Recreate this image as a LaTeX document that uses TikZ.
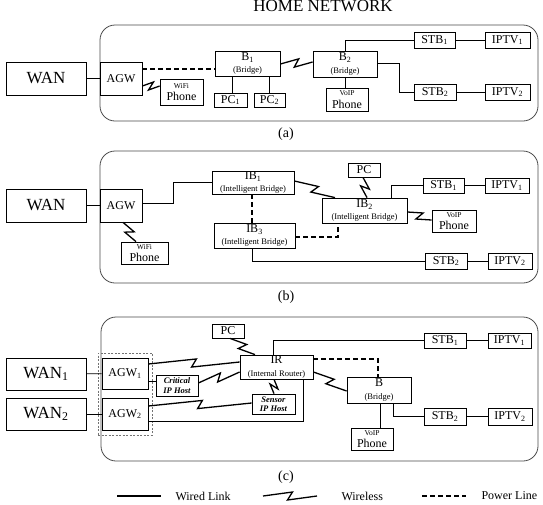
\documentclass[tikz,border=0pt]{standalone}
\usepackage{fontspec}
\setmainfont{Liberation Serif}
\usetikzlibrary{calc}
\newcommand\smt{\fontsize{7.5}{8}\selectfont}
\newcommand\mdt{\fontsize{8.5}{9.5}\selectfont}
\newcommand\bgt{\fontsize{17}{18}\selectfont}
\newcommand\bx[7][]{\node[box,minimum width={(#4-#2)*1pt},minimum height={(#5-#3)*1pt},#1] (#6) at ({(#2+#4)/2},{(#3+#5)/2}) {#7};}
\newcommand\wls[2]{\draw[wlink] let \p1=($(#2)-(#1)$), \n1={atan2(\y1,\x1)} in (#1) -- ($(#1)!0.5!(#2)+(\n1:2.5pt)+(\n1+90:4pt)$) -- ($(#1)!0.5!(#2)+(\n1:-2.5pt)+(\n1-90:4pt)$) -- (#2);}
\tikzset{
  box/.style={draw,line width=0.8pt,inner sep=0pt,align=center,font=\fontsize{12}{12.5}\selectfont},
  wire/.style={line width=0.8pt},
  wlink/.style={line width=1.3pt,line join=miter,miter limit=10},
  pl/.style={line width=2.8pt,dash pattern=on 5pt off 3pt},
  panel/.style={draw=black!70,line width=0.8pt,rounded corners=15pt},
  grpbox/.style={draw=black!55,line width=0.7pt,dash pattern=on 2pt off 1.5pt},
  captxt/.style={font=\fontsize{14}{14}\selectfont},
  legtext/.style={anchor=west,font=\fontsize{12}{12}\selectfont},
  hostbox/.style={font=\mdt\bfseries\itshape}
}
\begin{document}
\begin{tikzpicture}[x=1pt,y=-1pt]
\path[use as bounding box,fill=white] (0,0) rectangle (543,504);
\node[anchor=base,font=\fontsize{17}{17}\selectfont] (title) at (323,11.8) {HOME NETWORK};

% ---------------- panel (a)
\draw[panel] (100,25) rectangle (538,121);
\bx{6}{62}{86}{95}{wanA}{\bgt WAN}
\bx{100}{62}{142}{95}{agwA}{AGW}
\bx{160}{79}{203}{105}{wifiA}{{\smt WiFi}\\Phone}
\bx{215}{51}{280}{76}{b1A}{B\textsubscript{1}\\{\mdt (Bridge)}}
\bx{214}{93}{247}{107}{pc1A}{PC\textsubscript{1}}
\bx{254}{93}{285}{107}{pc2A}{PC\textsubscript{2}}
\bx{313}{51}{377}{77}{b2A}{B\textsubscript{2}\\{\mdt (Bridge)}}
\bx{326}{88}{368}{111}{voipA}{{\smt VoIP}\\Phone}
\bx{414}{32}{455}{48}{stb1A}{STB\textsubscript{1}}
\bx{485}{32}{530}{48}{iptv1A}{IPTV\textsubscript{1}}
\bx{414}{84}{456}{100}{stb2A}{STB\textsubscript{2}}
\bx{485}{84}{530}{100}{iptv2A}{IPTV\textsubscript{2}}
\draw[wire] (wanA) -- (agwA);
\draw[pl] (agwA.east |- 0,69) -- (b1A.west |- 0,69);
\coordinate (wa1) at (agwA.east |- 0,86);
\coordinate (wa2) at (wifiA.west |- 0,86);
\wls{wa1}{wa2}
\draw[wire] (b1A.south -| 232,0) -- (pc1A.north -| 232,0);
\draw[wire] (b1A.south -| 269,0) -- (pc2A.north -| 269,0);
\coordinate (wa3) at (b1A.east |- 0,64);
\coordinate (wa4) at (b2A.west |- 0,62);
\wls{wa3}{wa4}
\draw[wire] (b2A.north -| 345,0) |- (stb1A.west);
\draw[wire] (b2A.east |- 0,63) -- (399,63) |- (stb2A.west);
\draw[wire] (b2A.south -| 345,0) -- (voipA.north -| 345,0);
\draw[wire] (stb1A) -- (iptv1A);
\draw[wire] (stb2A) -- (iptv2A);
\node[captxt] (capA) at (286,134) {(a)};

% ---------------- panel (b)
\draw[panel] (100,151) rectangle (538,283);
\bx{6}{189}{86}{222}{wanB}{\bgt WAN}
\bx{100}{189}{142}{222}{agwB}{AGW}
\bx{121}{242}{168}{264}{wifiB}{{\smt WiFi}\\Phone}
\bx{212}{171}{294}{194}{ib1}{IB\textsubscript{1}\\{\mdt (Intelligent Bridge)}}
\bx{214}{223}{295}{248}{ib3}{IB\textsubscript{3}\\{\mdt (Intelligent Bridge)}}
\bx{322}{198}{407}{223}{ib2}{IB\textsubscript{2}\\{\mdt (Intelligent Bridge)}}
\bx{348}{163}{380}{177}{pcB}{PC}
\bx{423}{178}{464}{193}{stb1B}{STB\textsubscript{1}}
\bx{485}{178}{529}{193}{iptv1B}{IPTV\textsubscript{1}}
\bx{432}{210}{476}{232}{voipB}{{\smt VoIP}\\Phone}
\bx{425}{253}{467}{269}{stb2B}{STB\textsubscript{2}}
\bx{488}{253}{532}{269}{iptv2B}{IPTV\textsubscript{2}}
\draw[wire] (wanB) -- (agwB);
\draw[wire] (agwB.east |- 0,203) -- (173,203) |- (ib1.west);
\coordinate (wb1) at (agwB.south -| 123,0);
\coordinate (wb2) at (wifiB.north -| 136,0);
\wls{wb1}{wb2}
\draw[pl] (ib1.south -| 252,0) -- (ib3.north -| 252,0);
\coordinate (wb3) at (ib1.east |- 0,181);
\coordinate (wb4) at (ib2.north -| 335,0);
\wls{wb3}{wb4}
\draw[pl] (ib3.east |- 0,237) -- (338,237) -- (ib2.south -| 338,0);
\coordinate (wb5) at (pcB.south -| 363,0);
\coordinate (wb6) at (ib2.north -| 367,0);
\wls{wb5}{wb6}
\draw[wire] (ib2.north -| 391,0) |- (stb1B.west);
\coordinate (wb7) at (ib2.east |- 0,212);
\coordinate (wb8) at (voipB.west |- 0,220);
\wls{wb7}{wb8}
\draw[wire] (ib3.south -| 252,0) |- (stb2B.west);
\draw[wire] (stb1B) -- (iptv1B);
\draw[wire] (stb2B) -- (iptv2B);
\node[captxt] (capB) at (286,297) {(b)};

% ---------------- panel (c)
\draw[panel] (101,317) rectangle (538,461);
\bx{6}{358}{86}{390}{wan1}{\bgt WAN\textsubscript{1}}
\bx{6}{398}{86}{430}{wan2}{\bgt WAN\textsubscript{2}}
\bx[grpbox,draw=black!55]{98}{353}{152}{435}{grp}{}
\bx{102}{358}{148}{389}{agw1}{AGW\textsubscript{1}}
\bx{102}{398}{148}{430}{agw2}{AGW\textsubscript{2}}
\bx{212}{324}{244}{338}{pcC}{PC}
\bx{240}{355}{313}{379}{ir}{IR\\{\mdt (Internal Router)}}
\bx[hostbox]{156}{375}{198}{396}{crit}{Critical\\IP Host}
\bx[hostbox]{252}{394}{295}{414}{sens}{Sensor\\IP Host}
\bx{347}{377}{411}{403}{bC}{B\\{\mdt (Bridge)}}
\bx{351}{428}{393}{450}{voipC}{{\smt VoIP}\\Phone}
\bx{424}{333}{466}{348}{stb1C}{STB\textsubscript{1}}
\bx{488}{333}{531}{348}{iptv1C}{IPTV\textsubscript{1}}
\bx{424}{408}{466}{425}{stb2C}{STB\textsubscript{2}}
\bx{488}{408}{532}{425}{iptv2C}{IPTV\textsubscript{2}}
\draw[wire] (wan1) -- (agw1);
\draw[wire] (wan2) -- (agw2);
\coordinate (wc1) at (agw1.east |- 0,364);
\coordinate (wc2) at (ir.west |- 0,362);
\wls{wc1}{wc2}
\draw[wire] (agw1.east |- 0,381) -- (crit.west |- 0,381);
\coordinate (wc3) at (crit.east |- 0,383);
\coordinate (wc4) at (ir.west |- 0,372);
\wls{wc3}{wc4}
\coordinate (wc5) at (agw2.east |- 0,406);
\coordinate (wc6) at (sens.west |- 0,403);
\wls{wc5}{wc6}
\draw[wire] (agw2.east |- 0,421) -- (303,421) -- (ir.south -| 303,0);
\coordinate (wc7) at (sens.north -| 274,0);
\coordinate (wc8) at (ir.south -| 274,0);
\wls{wc7}{wc8}
\coordinate (wc9) at (pcC.south -| 230,0);
\coordinate (wc10) at (ir.north -| 255,0);
\wls{wc9}{wc10}
\draw[wire] (ir.north -| 273,0) |- (stb1C.west);
\draw[pl] (ir.east |- 0,359) -- (378,359) -- (bC.north -| 378,0);
\coordinate (wc11) at (ir.east |- 0,372);
\coordinate (wc12) at (bC.west |- 0,391);
\wls{wc11}{wc12}
\draw[wire] (bC.south -| 380,0) -- (voipC.north -| 380,0);
\draw[wire] (bC.south -| 393,0) |- (stb2C.west);
\draw[wire] (stb1C) -- (iptv1C);
\draw[wire] (stb2C) -- (iptv2C);
\node[captxt] (capC) at (286,477) {(c)};

% ---------------- legend
\coordinate (la1) at (117,496);
\coordinate (la2) at (161,496);
\draw[wire,line width=1.2pt] (la1) -- (la2);
\node[legtext] (lt1) at (172,496) {Wired Link};
\coordinate (lb1) at (263,496);
\coordinate (lb2) at (317,496);
\wls{lb1}{lb2}
\node[legtext] (lt2) at (338,496) {Wireless};
\coordinate (lc1) at (422,496);
\coordinate (lc2) at (466,496);
\draw[pl] (lc1) -- (lc2);
\node[legtext] (lt3) at (478,496) {Power Line};
\end{tikzpicture}
\end{document}
